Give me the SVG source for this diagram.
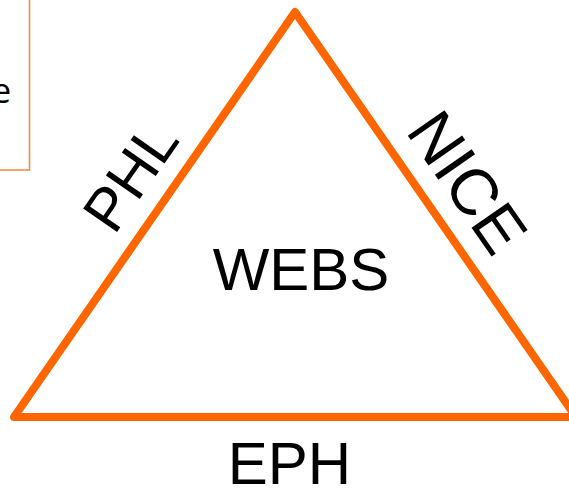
<svg xmlns="http://www.w3.org/2000/svg" width="569" height="489" viewBox="0 0 569 489">
<style>
.lbl{font-family:"Liberation Sans",Arial,sans-serif;fill:#000;font-size:60px;}
.tri{fill:none;stroke:#FF6600;stroke-width:8;stroke-linejoin:round;stroke-linecap:round;}
.box{fill:#fff;stroke:#F5853A;stroke-width:1.5;}
</style>
<rect width="569" height="489" fill="#fff"/>
<g id="note">
<rect class="box" x="-10" y="-10" width="39.5" height="180"/>
<text x="11" y="103" font-family="'Open Sans',sans-serif" font-size="34" text-anchor="end" fill="#000">e</text>
</g>
<g id="connectors">
<path class="tri" d="M295,12 L576,417 L14,417 Z"/>
</g>
<g id="webs"><text class="lbl" x="301" y="290" text-anchor="middle">WEBS</text></g>
<g id="eph"><text class="lbl" x="289.5" y="484" text-anchor="middle">EPH</text></g>
<g id="phl"><text class="lbl" text-anchor="middle" transform="translate(147.5,188) rotate(-55.25)">PHL</text></g>
<g id="nice"><text class="lbl" font-size="65" style="font-size:65px" text-anchor="middle" transform="translate(449,195) rotate(55.25)">NICE</text></g>
</svg>
